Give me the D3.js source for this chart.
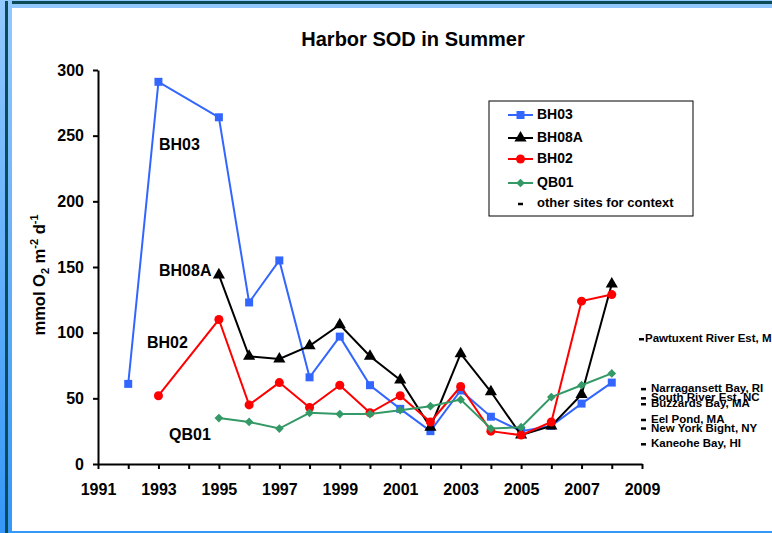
<!DOCTYPE html>
<html>
<head>
<meta charset="utf-8">
<script src="https://cdn.jsdelivr.net/npm/d3@7"></script>
<style>
  html, body { margin: 0; padding: 0; background: #ffffff; }
  svg { display: block; }
  text { font-family: "Liberation Sans", Arial, sans-serif; font-weight: bold; fill: #000; }
</style>
</head>
<body>
<svg id="chart" width="772" height="533"></svg>
<script>
// ---------- data ----------
const title = "Harbor SOD in Summer";
const xTicks = [1991, 1993, 1995, 1997, 1999, 2001, 2003, 2005, 2007, 2009];
const yTicks = [0, 50, 100, 150, 200, 250, 300];

const bh03Years = [1992, 1993, 1995, 1996, 1997, 1998, 1999, 2000, 2001, 2002, 2003, 2004, 2005, 2006, 2007, 2008];
const bh03Values = [61, 291, 264, 123, 155, 66, 97, 60, 42, 25, 56, 36, 25, 29, 46, 62];

const bh08aYears = [1995, 1996, 1997, 1998, 1999, 2000, 2001, 2002, 2003, 2004, 2005, 2006, 2007, 2008];
const bh08aValues = [144, 82, 80, 90, 106, 82, 64, 28, 84, 55, 22, 29, 53, 137];

const bh02Years = [1993, 1995, 1996, 1997, 1998, 1999, 2000, 2001, 2002, 2003, 2004, 2005, 2006, 2007, 2008];
const bh02Values = [52, 110, 45, 62, 43, 60, 39, 52, 32, 59, 25, 22, 32, 124, 129];

const qb01Years = [1995, 1996, 1997, 1998, 1999, 2000, 2001, 2002, 2003, 2004, 2005, 2006, 2007, 2008];
const qb01Values = [35, 32, 27, 39, 38, 38, 41, 44, 49, 27, 28, 51, 60, 69];

const contextSites = ["Pawtuxent River Est, MD", "Narragansett Bay, RI", "South River Est, NC", "Buzzards Bay, MA", "Eel Pond, MA", "New York Bight, NY", "Kaneohe Bay, HI"];
const contextValues = [95, 57, 50, 45.5, 33.5, 27, 15];

const seriesNames = ["BH03", "BH08A", "BH02", "QB01"];
const seriesColors = ["#3366ff", "#000000", "#ff0000", "#339966"];
const seriesSymbols = [d3.symbolSquare, d3.symbolTriangle, d3.symbolCircle, d3.symbolSquare];
const seriesSymbolSizes = [64, 64, 64, 38];
const seriesSymbolRotation = [0, 0, 0, 45];

const series = [
  {name: seriesNames[0], years: bh03Years, values: bh03Values},
  {name: seriesNames[1], years: bh08aYears, values: bh08aValues},
  {name: seriesNames[2], years: bh02Years, values: bh02Values},
  {name: seriesNames[3], years: qb01Years, values: qb01Values}
];

// ---------- drawing ----------
const svg = d3.select("#chart");
const W = 772, H = 533;

// frame
const defs = svg.append("defs");
const grad = defs.append("linearGradient").attr("id", "leftGrad")
  .attr("x1", 0).attr("y1", 0).attr("x2", 0).attr("y2", 1);
grad.append("stop").attr("offset", "0%").attr("stop-color", "#93c9ff");
grad.append("stop").attr("offset", "100%").attr("stop-color", "#3597f7");

svg.append("rect").attr("x", 0).attr("y", 0).attr("width", W).attr("height", H).attr("fill", "#ffffff");
svg.append("rect").attr("x", 0).attr("y", 0).attr("width", W).attr("height", 8).attr("fill", "#92c8ff");
svg.append("rect").attr("x", 0).attr("y", 1).attr("width", W).attr("height", 3).attr("fill", "#0b4b58");
svg.append("rect").attr("x", 0).attr("y", 531).attr("width", W).attr("height", 2).attr("fill", "#3597f7");
svg.append("rect").attr("x", 0).attr("y", 0).attr("width", 12).attr("height", H).attr("fill", "url(#leftGrad)");
svg.append("rect").attr("x", 5).attr("y", 1).attr("width", 3).attr("height", H).attr("fill", "#0b4b58");

const x = d3.scaleLinear().domain([1991, 2009]).range([98, 642]);
const y = d3.scaleLinear().domain([0, 300]).range([464, 70]);

// title
svg.append("text").attr("x", 413).attr("y", 46).attr("text-anchor", "middle")
  .style("font-size", "20px").text(title);

// y axis label
const yl = svg.append("text")
  .attr("transform", "translate(45,275) rotate(-90)")
  .attr("text-anchor", "middle")
  .style("font-size", "16.5px");
yl.append("tspan").text("mmol O");
yl.append("tspan").attr("dy", 4).style("font-size", "11px").text("2");
yl.append("tspan").attr("dy", -4).text(" m");
yl.append("tspan").attr("dy", -7).style("font-size", "11px").text("-2");
yl.append("tspan").attr("dy", 7).text(" d");
yl.append("tspan").attr("dy", -7).style("font-size", "11px").text("-1");

// axes
const xAxis = d3.axisBottom(x)
  .tickValues(d3.range(1991, 2010))
  .tickSize(5).tickSizeOuter(0).tickPadding(15)
  .tickFormat(d => xTicks.includes(d) ? String(d) : "");
const gx = svg.append("g").attr("transform", `translate(0,${y(0)})`).call(xAxis);
gx.selectAll("text").style("font-size", "16px").style("font-family", "'Liberation Sans', Arial, sans-serif").style("font-weight", "bold");

const yAxis = d3.axisLeft(y).tickValues(yTicks).tickSize(5).tickSizeOuter(0).tickPadding(9)
  .tickFormat(d3.format("d"));
const gy = svg.append("g").attr("transform", `translate(${x(1991)},0)`).call(yAxis);
gy.selectAll("text").style("font-size", "16px").style("font-family", "'Liberation Sans', Arial, sans-serif").style("font-weight", "bold");

[gx, gy].forEach(g => {
  g.select(".domain").attr("stroke", "#000").attr("stroke-width", 2);
  g.selectAll(".tick line").attr("stroke", "#000").attr("stroke-width", 2);
});

// series
const line = d3.line().x(d => x(d[0])).y(d => y(d[1]));
series.forEach((s, i) => {
  const pts = s.years.map((yr, j) => [yr, s.values[j]]);
  svg.append("path").datum(pts).attr("d", line)
    .attr("fill", "none").attr("stroke", seriesColors[i]).attr("stroke-width", 2);
  svg.append("g").selectAll("path").data(pts).join("path")
    .attr("transform", d => `translate(${x(d[0])},${y(d[1])}) rotate(${seriesSymbolRotation[i]})`)
    .attr("d", d3.symbol().type(seriesSymbols[i]).size(seriesSymbolSizes[i]))
    .attr("fill", seriesColors[i]);
});

// inline series labels
const inlineLabels = [
  {t: seriesNames[0], x: 159, y: 150},
  {t: seriesNames[1], x: 159, y: 276},
  {t: seriesNames[2], x: 147, y: 348},
  {t: seriesNames[3], x: 169, y: 440}
];
inlineLabels.forEach(l => {
  svg.append("text").attr("x", l.x).attr("y", l.y).style("font-size", "16px").text(l.t);
});

// context sites
contextSites.forEach((name, i) => {
  const cy = y(contextValues[i]);
  const off = i === 0 ? -2 : 0;
  svg.append("line").attr("x1", x(2009) - 1 + off).attr("x2", x(2009) + 4 + off)
    .attr("y1", cy).attr("y2", cy).attr("stroke", "#000").attr("stroke-width", 2.5);
  svg.append("text").attr("x", i === 0 ? x(2009) + 3 : x(2009) + 9).attr("y", cy)
    .attr("dominant-baseline", "middle").style("font-size", "11.5px").text(name);
});

// legend
const lg = svg.append("g").attr("transform", "translate(489,101)");
lg.append("rect").attr("x", 0).attr("y", 0).attr("width", 204).attr("height", 115)
  .attr("fill", "#fff").attr("stroke", "#000").attr("stroke-width", 1);
const rowY = [14, 37, 58, 82, 103];
seriesNames.forEach((n, i) => {
  const ry = rowY[i];
  lg.append("line").attr("x1", 19).attr("x2", 44).attr("y1", ry).attr("y2", ry)
    .attr("stroke", seriesColors[i]).attr("stroke-width", 2);
  lg.append("path").attr("transform", `translate(31.5,${ry}) rotate(${seriesSymbolRotation[i]})`)
    .attr("d", d3.symbol().type(seriesSymbols[i]).size(seriesSymbolSizes[i]))
    .attr("fill", seriesColors[i]);
  lg.append("text").attr("x", 48).attr("y", ry).attr("dominant-baseline", "middle")
    .style("font-size", "14px").text(n);
});
lg.append("line").attr("x1", 29).attr("x2", 34).attr("y1", rowY[4]).attr("y2", rowY[4])
  .attr("stroke", "#000").attr("stroke-width", 2.5);
lg.append("text").attr("x", 48).attr("y", rowY[4]).attr("dominant-baseline", "middle")
  .style("font-size", "13px").text("other sites for context");
</script>
</body>
</html>
